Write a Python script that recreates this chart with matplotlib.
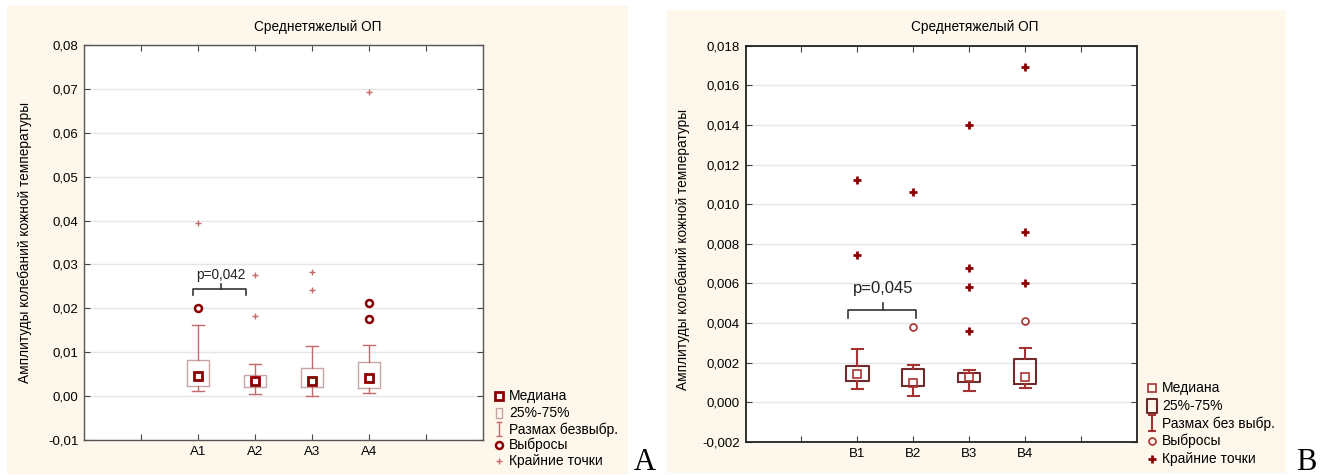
import numpy as np
import matplotlib
matplotlib.use('Agg')
import matplotlib.pyplot as plt
from matplotlib.patches import Rectangle
from matplotlib.path import Path
from matplotlib.ticker import FuncFormatter

plt.rcParams['font.family'] = ['Liberation Sans', 'DejaVu Sans']

# ---- data: panel A ----
cats_a = ['A1', 'A2', 'A3', 'A4']
a_low = [0.0011, 0.0005, 0.0000, 0.0008]
a_q1 = [0.0024, 0.0021, 0.0020, 0.0018]
a_med = [0.0046, 0.0035, 0.0035, 0.0041]
a_q3 = [0.0083, 0.0048, 0.0064, 0.0078]
a_high = [0.0163, 0.0074, 0.0115, 0.0117]
a_outliers = [[0.0200], [], [], [0.0176, 0.0212]]
a_extremes = [[0.0395], [0.0182, 0.0276], [0.0241, 0.0282], [0.0694]]

# ---- data: panel B ----
cats_b = ['B1', 'B2', 'B3', 'B4']
b_low = [0.00067, 0.0003, 0.00058, 0.0007]
b_q1 = [0.00108, 0.00083, 0.00103, 0.00095]
b_med = [0.00143, 0.0010, 0.00128, 0.0013]
b_q3 = [0.00185, 0.0017, 0.0015, 0.0022]
b_high = [0.0027, 0.00187, 0.00163, 0.00275]
b_outliers = [[], [0.00382], [], [0.00413]]
b_extremes = [[0.0112, 0.00745], [0.0106], [0.0140, 0.0068, 0.0058, 0.0036], [0.0169, 0.0086, 0.0060]]

title = 'Среднетяжелый ОП'
ylabel = 'Амплитуды колебаний кожной температуры'
legend_labels_a = ['Медиана', '25%-75%', 'Размах безвыбр.', 'Выбросы', 'Крайние точки']
legend_labels_b = ['Медиана', '25%-75%', 'Размах без выбр.', 'Выбросы', 'Крайние точки']

W, H = 1330, 475
fig = plt.figure(figsize=(W / 100, H / 100), dpi=100)

# cream panels
fig.patches.append(Rectangle((7 / W, 1 / H), 621 / W, 468 / H, transform=fig.transFigure,
                             facecolor='#fef8ec', edgecolor='none', zorder=-10))
fig.patches.append(Rectangle((667 / W, 2 / H), 619 / W, 463 / H, transform=fig.transFigure,
                             facecolor='#fef8ec', edgecolor='none', zorder=-10))

# I-shaped marker for whisker legend, rectangle for box legend
ipath = Path([(-0.5, -1), (0.5, -1), (0, -1), (0, 1), (-0.5, 1), (0.5, 1)],
             [Path.MOVETO, Path.LINETO, Path.MOVETO, Path.LINETO, Path.MOVETO, Path.LINETO])
rpath = Path([(-0.7, -1), (0.7, -1), (0.7, 1), (-0.7, 1), (-0.7, -1)],
             [Path.MOVETO, Path.LINETO, Path.LINETO, Path.LINETO, Path.CLOSEPOLY])


def panel(rect, cats, low, q1, med, q3, high, outl, extr, ylim, yticks, dec, st):
    ax = fig.add_axes(rect)
    ax.set_facecolor('white')
    pos = np.arange(2, 2 + len(cats))
    stats = [dict(med=m, q1=a, q3=b, whislo=l, whishi=h, fliers=[])
             for l, a, m, b, h in zip(low, q1, med, q3, high)]
    ax.bxp(stats, positions=pos, widths=0.4, capwidths=0.2, showfliers=False,
           boxprops=dict(color=st['box'], lw=st['boxlw']),
           whiskerprops=dict(color=st['wh'], lw=st['whlw']),
           capprops=dict(color=st['wh'], lw=st['whlw']),
           medianprops=dict(linestyle='none'), zorder=3)
    ax.plot(pos, med, ls='none', **st['med'], zorder=4)
    for x, vals in zip(pos, outl):
        if vals:
            ax.plot([x] * len(vals), vals, ls='none', **st['out'], zorder=4)
    for x, vals in zip(pos, extr):
        ax.plot([x] * len(vals), vals, ls='none', **st['ext'], zorder=4)

    ax.set_xlim(0, 7)
    ax.set_ylim(*ylim)
    ax.set_xticks(range(1, 7))
    ax.set_xticklabels([''] + cats + [''])
    ax.set_yticks(yticks)
    ax.yaxis.set_major_formatter(FuncFormatter(lambda v, p: ('{:.%df}' % dec).format(v).replace('.', ',')))
    ax.tick_params(direction='in', top=True, right=True, length=4, labelsize=9.5,
                   color='#444444', pad=4)
    ax.grid(axis='y', color='#e6e6e6', lw=1)
    ax.set_axisbelow(True)
    for s in ax.spines.values():
        s.set_color(st['frame'])
        s.set_linewidth(st['framelw'])
    ax.set_ylabel(ylabel, fontsize=9.8)
    return ax


style_a = dict(box='#c9a6a6', boxlw=1.0, wh='#c46a6a', whlw=1.0,
               med=dict(marker='s', ms=5.5, mfc='white', mec='#8b0000', mew=2.0),
               out=dict(marker='o', ms=5, mfc='white', mec='#8b0000', mew=1.8),
               ext=dict(marker='+', ms=4.5, color='#c46a6a', mew=1.0),
               frame='#555555', framelw=1.0, rms=6.5, ims=10)
style_b = dict(box='#6e2c2c', boxlw=1.5, wh='#a63333', whlw=1.5,
               med=dict(marker='s', ms=5.5, mfc='none', mec='#a83232', mew=1.2),
               out=dict(marker='o', ms=5, mfc='none', mec='#a83232', mew=1.2),
               ext=dict(marker='+', ms=6, color='#8b0000', mew=2.0),
               frame='#222222', framelw=1.3, rms=10, ims=11)

axA = panel([84 / W, 35 / H, 399 / W, 395 / H], cats_a, a_low, a_q1, a_med, a_q3, a_high,
            a_outliers, a_extremes, (-0.01, 0.08), np.arange(-0.01, 0.081, 0.01), 2, style_a)
axB = panel([745.5 / W, 33 / H, 391.5 / W, 396.3 / H], cats_b, b_low, b_q1, b_med, b_q3, b_high,
            b_outliers, b_extremes, (-0.002, 0.018), np.arange(-0.002, 0.0181, 0.002), 3, style_b)
axA.yaxis.set_label_coords(-52 / 399, 0.5)
axB.yaxis.set_label_coords(-55 / 391.5, 0.485)

fig.text(318 / W, 1 - 27 / H, title, ha='center', va='center', fontsize=9.8)
fig.text(975 / W, 1 - 27 / H, title, ha='center', va='center', fontsize=9.8)


# significance brackets
def bracket(ax, x0, x1, xm, yb, yt, ytick, text, ty, fs):
    ax.plot([x0, x0, x1, x1], [yb, yt, yt, yb], color='#333333', lw=1.2, zorder=5)
    ax.plot([xm, xm], [yt, ytick], color='#333333', lw=1.2, zorder=5)
    ax.text((x0 + x1) / 2 + 0.02, ty, text, ha='center', va='center', fontsize=fs,
            color='#222222', zorder=5)

bracket(axA, 1.92, 2.84, 2.40, 0.0230, 0.0243, 0.0255, 'p=0,042', 0.0277, 9.8)
bracket(axB, 1.84, 3.04, 2.46, 0.00428, 0.00467, 0.0050, 'p=0,045', 0.00577, 12)


# legends
def legend(ax, xm, xt, ys, labels, st):
    kw = dict(transform=ax.transAxes, clip_on=False, ls='none')
    ax.plot(xm, ys[0], **st['med'], **kw)
    ax.plot(xm, ys[1], marker=rpath, ms=st['rms'], mfc='none', mec=st['box'], mew=st['boxlw'], **kw)
    ax.plot(xm, ys[2], marker=ipath, ms=st['ims'], mfc='none', mec=st['wh'], mew=st['whlw'], **kw)
    ax.plot(xm, ys[3], **st['out'], **kw)
    ax.plot(xm, ys[4], **st['ext'], **kw)
    for y, t in zip(ys, labels):
        ax.text(xt, y, t, transform=ax.transAxes, ha='left', va='center', fontsize=10)

legend(axA, 1.04, 1.066, [0.112, 0.068, 0.027, -0.013, -0.052], legend_labels_a, style_a)
legend(axB, 1.0375, 1.064, [0.137, 0.0915, 0.047, 0.0025, -0.042], legend_labels_b, style_b)

fig.text(645 / W, 1 - 462 / H, 'A', ha='center', va='center', fontsize=22, family='Liberation Serif')
fig.text(1306 / W, 1 - 462 / H, 'B', ha='center', va='center', fontsize=22, family='Liberation Serif')

fig.savefig('out.png', dpi=100, facecolor='white')
